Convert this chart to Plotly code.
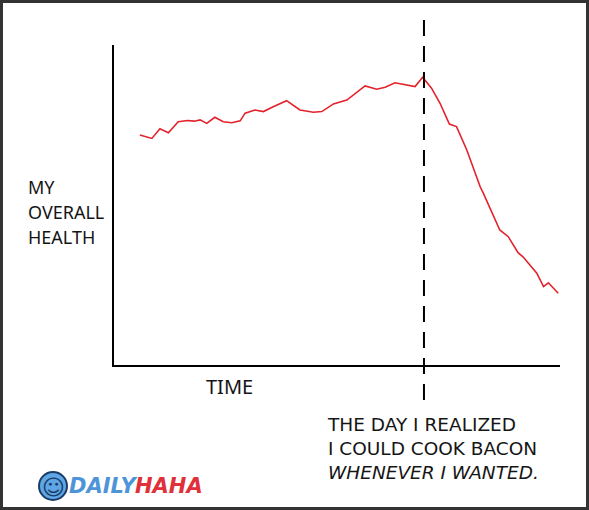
import plotly.graph_objects as go

# ---- data (time 0..100, health 0..100) ----
time = [5.8, 8.5, 10.3, 12.2, 14.4, 16.5, 18.0, 19.3, 20.8, 22.6, 24.5, 26.4, 28.3,
        29.4, 31.6, 33.5, 35.7, 38.7, 41.7, 44.7, 46.6, 49.2, 52.2, 56.3, 58.9,
        60.8, 63.0, 65.6, 67.5, 69.2, 71.2, 73.1, 75.2, 76.8, 79.1, 82.1, 82.8,
        86.5, 88.4, 90.6, 91.7, 94.8, 96.3, 97.4, 99.6]
health = [71.9, 70.8, 73.8, 72.6, 76.0, 76.4, 76.2, 76.6, 75.5, 77.4, 76.0, 75.7, 76.3,
          78.7, 79.7, 79.2, 80.7, 82.6, 79.7, 79.0, 79.2, 81.6, 82.8, 87.2, 86.2,
          86.8, 88.2, 87.5, 87.0, 89.9, 86.5, 81.8, 75.3, 74.5, 67.2, 55.7, 53.7,
          42.2, 40.1, 35.1, 33.8, 28.7, 24.5, 25.7, 22.4]
bacon_day = 69.5
y_label = ["MY", "OVERALL", "HEALTH"]
x_label = "TIME"
caption = ["THE DAY I REALIZED", "I COULD COOK BACON", "<i>WHENEVER I WANTED.</i>"]

W, H = 589, 510
L, R, T, B = 114, 29, 45, 145
pw, ph = W - L - R, H - T - B


def px(x):
    return (x - L) / pw


def py(y):
    return (H - B - y) / ph


FONT = "Noto Sans, Lato, DejaVu Sans, sans-serif"
INK = "#151515"

fig = go.Figure()
fig.add_trace(go.Scatter(x=time, y=health, mode="lines",
                         line=dict(color="#e3222b", width=1.6), hoverinfo="skip"))

shapes = [
    # dashed marker line
    dict(type="line", xref="x", yref="paper", x0=bacon_day, x1=bacon_day,
         y0=py(400), y1=py(20), line=dict(color="black", width=2, dash="16px,10px")),
    # image frame
    dict(type="rect", xref="paper", yref="paper", x0=px(1.5), x1=px(587.5),
         y0=py(508.5), y1=py(1.5), line=dict(color="#333333", width=3)),
    # logo smiley
    dict(type="circle", xref="paper", yref="paper", x0=px(39), x1=px(67),
         y0=py(500), y1=py(472), fillcolor="#5ea6e6", line=dict(color="#1b3c66", width=2)),
]

ann = []
for txt, yy in zip(y_label, [187, 212, 237]):
    ann.append(dict(text=txt, x=px(26), y=py(yy), xanchor="left", yanchor="middle",
                    font=dict(size=18, color=INK)))
ann.append(dict(text=x_label, x=px(204), y=py(386), xanchor="left", yanchor="middle",
                font=dict(size=20, color=INK)))
ann.append(dict(text="<br>".join(caption), x=px(325), y=py(448), xanchor="left",
                yanchor="middle", align="left",
                font=dict(size=18.5, color=INK, family="DejaVu Sans")))
ann += [
    dict(text="<b>☺</b>", x=px(53), y=py(486), xanchor="center", yanchor="middle",
         font=dict(size=22, color="#1b3c66")),
    dict(text="<b><i>DAILY</i></b>", x=px(67), y=py(486), xanchor="left", yanchor="middle",
         font=dict(size=21, color="#4d94d8", family="DejaVu Sans")),
    dict(text="<b><i>HAHA</i></b>", x=px(133), y=py(486), xanchor="left", yanchor="middle",
         font=dict(size=21, color="#e0303a", family="DejaVu Sans")),
]
for a in ann:
    a.update(xref="paper", yref="paper", showarrow=False)
    a["font"].setdefault("family", FONT)

fig.update_layout(
    width=W, height=H, margin=dict(l=L, r=R, t=T, b=B),
    paper_bgcolor="white", plot_bgcolor="white", showlegend=False,
    shapes=shapes, annotations=ann, font=dict(family=FONT),
    xaxis=dict(range=[0, 100], showline=True, linecolor="black", linewidth=2,
               showgrid=False, zeroline=False, showticklabels=False, ticks=""),
    yaxis=dict(range=[0, 100], showline=True, linecolor="black", linewidth=2,
               showgrid=False, zeroline=False, showticklabels=False, ticks=""),
)
fig.write_html("out.html", config={"displayModeBar": False},
               post_script="document.body.style.margin='0';")
